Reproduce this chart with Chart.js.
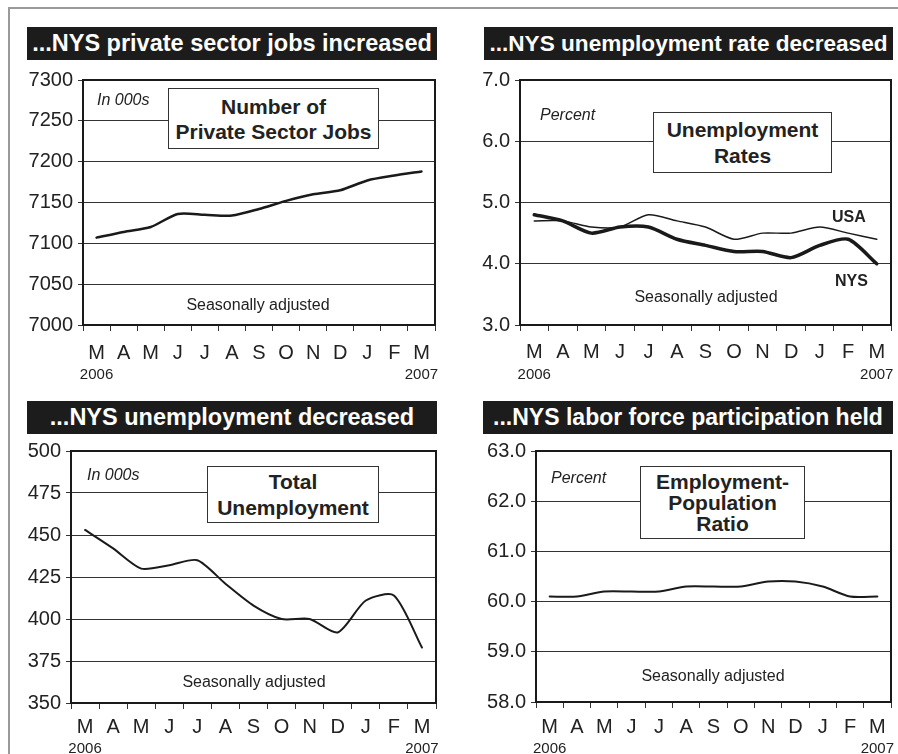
<!DOCTYPE html>
<html><head><meta charset="utf-8">
<script src="https://cdn.jsdelivr.net/npm/chart.js@4.4.0/dist/chart.umd.min.js"></script>
<style>
html,body{margin:0;padding:0;background:#fff;}
body{width:898px;height:754px;position:relative;overflow:hidden;font-family:"Liberation Sans",Arial,sans-serif;color:#222;}
.bar{position:absolute;background:#1c1c1c;color:#fff;font-weight:bold;font-size:23.5px;display:flex;align-items:center;justify-content:center;white-space:nowrap;height:33px;z-index:6;}
.box{position:absolute;box-sizing:border-box;background:#fff;border:1px solid #333;display:flex;flex-direction:column;align-items:center;justify-content:center;font-weight:bold;font-size:21px;text-align:center;white-space:nowrap;z-index:5;}
.it{position:absolute;font-style:italic;font-size:16px;line-height:18px;white-space:nowrap;z-index:5;}
.sa{position:absolute;font-size:16px;line-height:18px;white-space:nowrap;transform:translateX(-50%);z-index:5;}
.lb{position:absolute;font-weight:bold;font-size:16px;line-height:19px;white-space:nowrap;z-index:5;}
.fr{position:absolute;background:#9a9a9a;z-index:6;}
canvas{position:absolute;}
</style></head>
<body>
<div class="fr" style="left:8px;top:7px;width:890px;height:2px"></div>
<div class="fr" style="left:8px;top:7px;width:2px;height:747px"></div>

<div class="bar" style="left:27px;top:27px;width:410px">...NYS private sector jobs increased</div>
<div class="bar" style="left:484px;top:27px;width:409px;font-size:22.6px">...NYS unemployment rate decreased</div>
<div class="bar" style="left:27px;top:401px;width:410px">...NYS unemployment decreased</div>
<div class="bar" style="left:483px;top:401px;width:410px;font-size:23px">...NYS labor force participation held</div>

<canvas id="c1" width="450" height="322" style="left:0px;top:62px"></canvas>
<canvas id="c2" width="448" height="322" style="left:450px;top:62px"></canvas>
<canvas id="c3" width="450" height="324" style="left:0px;top:434px"></canvas>
<canvas id="c4" width="448" height="324" style="left:450px;top:434px"></canvas>

<div class="it" style="left:97px;top:91px">In 000s</div>
<div class="box" style="left:168px;top:88px;width:211px;height:61px;line-height:25px"><div>Number of</div><div>Private Sector Jobs</div></div>
<div class="sa" style="left:258px;top:296px">Seasonally adjusted</div>

<div class="it" style="left:540px;top:106px">Percent</div>
<div class="box" style="left:653px;top:112px;width:179px;height:61px;line-height:26px"><div>Unemployment</div><div>Rates</div></div>
<div class="lb" style="left:832px;top:207px">USA</div>
<div class="lb" style="left:835px;top:271px">NYS</div>
<div class="sa" style="left:706px;top:288px">Seasonally adjusted</div>

<div class="it" style="left:87px;top:466px">In 000s</div>
<div class="box" style="left:207px;top:466px;width:172px;height:57px;line-height:26px"><div>Total</div><div>Unemployment</div></div>
<div class="sa" style="left:254px;top:673px">Seasonally adjusted</div>

<div class="it" style="left:551px;top:469px">Percent</div>
<div class="box" style="left:640px;top:466px;width:165px;height:73px;line-height:21px"><div>Employment-</div><div>Population</div><div>Ratio</div></div>
<div class="sa" style="left:713px;top:667px">Seasonally adjusted</div>

<script>
const months = ['M','A','M','J','J','A','S','O','N','D','J','F','M'];
const years = ['2006','','','','','','','','','','','','2007'];

const privateJobs = [7107, 7114, 7120, 7136, 7135, 7134, 7142, 7152, 7160, 7165, 7177, 7183, 7188];
const usaRate = [4.7, 4.7, 4.6, 4.6, 4.8, 4.7, 4.6, 4.4, 4.5, 4.5, 4.6, 4.5, 4.4];
const nysRate = [4.8, 4.7, 4.5, 4.6, 4.6, 4.4, 4.3, 4.2, 4.2, 4.1, 4.3, 4.4, 4.0];
const totalUnemp = [453, 442, 430, 432, 435, 421, 408, 400, 400, 392, 411, 414, 383];
const empPopRatio = [60.1, 60.1, 60.2, 60.2, 60.2, 60.3, 60.3, 60.3, 60.4, 60.4, 60.3, 60.1, 60.1];

const jobsAxis = [7000, 7300, 50];
const rateAxis = [3.0, 7.0, 1.0];
const unempAxis = [350, 500, 25];
const ratioAxis = [58.0, 63.0, 1.0];

const FONT = '"Liberation Sans", Arial, sans-serif';
const INK = '#1a1a1a';

const framePlugin = {
  id: 'frame',
  afterDraw(c) {
    const a = c.chartArea, ctx = c.ctx;
    ctx.save();
    ctx.strokeStyle = INK;
    ctx.lineWidth = 2;
    ctx.strokeRect(a.left, a.top, a.right - a.left, a.bottom - a.top);
    ctx.restore();
  }
};

function makeChart(id, cb, area, axis, decimals, datasets, xc) {
  const W = area.left - cb.left;
  const padTop = area.top - cb.top;
  const padRight = cb.left + cb.width - area.right;
  return new Chart(document.getElementById(id), {
    type: 'line',
    data: { labels: months, datasets },
    options: {
      responsive: false, animation: false, events: [],
      layout: { padding: { top: padTop, right: padRight, left: 0, bottom: 0 } },
      plugins: { legend: { display: false }, tooltip: { enabled: false } },
      elements: { point: { radius: 0 }, line: { tension: 0.25, borderCapStyle: 'round', borderJoinStyle: 'round' } },
      scales: {
        x: {
          type: 'category', position: 'bottom', offset: true, weight: 0,
          grid: { offset: true, drawOnChartArea: false, tickLength: 6, color: '#333', lineWidth: 1 },
          border: { display: true, color: INK, width: 2 },
          ticks: { autoSkip: false, maxRotation: 0, minRotation: 0, padding: xc.mPad, color: '#222', font: { size: 20, family: FONT } },
          afterFit: s => { s.height = xc.mH; }
        },
        x2: {
          type: 'category', position: 'bottom', labels: years, offset: true, weight: 1,
          grid: { display: false, drawTicks: false, tickLength: 0 }, border: { display: false },
          ticks: { autoSkip: false, maxRotation: 0, minRotation: 0, padding: xc.yPad, color: '#222', font: { size: 15, family: FONT } },
          afterFit: s => { s.height = xc.yH; }
        },
        y: {
          min: axis[0], max: axis[1],
          grid: { color: '#333', lineWidth: 1, tickLength: 5 },
          border: { display: true, color: INK, width: 2 },
          ticks: { stepSize: axis[2], padding: 5, color: '#222', font: { size: 20, family: FONT },
                   callback: v => Number(v).toFixed(decimals) },
          afterFit: s => { s.width = W; }
        }
      }
    },
    plugins: [framePlugin]
  });
}

makeChart('c1', {left:0, top:62, width:450}, {left:83, top:80, right:435},
  jobsAxis, 0,
  [{ data: privateJobs, borderColor: INK, borderWidth: 2.5 }],
  { mPad: 10, mH: 40, yPad: 1, yH: 19 });

makeChart('c2', {left:450, top:62, width:448}, {left:520, top:80, right:891},
  rateAxis, 1,
  [{ data: usaRate, borderColor: INK, borderWidth: 1.5 },
   { data: nysRate, borderColor: INK, borderWidth: 3.5 }],
  { mPad: 9, mH: 39, yPad: 2, yH: 20 });

makeChart('c3', {left:0, top:434, width:450}, {left:71, top:450, right:436},
  unempAxis, 0,
  [{ data: totalUnemp, borderColor: INK, borderWidth: 2 }],
  { mPad: 6, mH: 36, yPad: 1, yH: 19 });

makeChart('c4', {left:450, top:434, width:448}, {left:536, top:451, right:891},
  ratioAxis, 1,
  [{ data: empPopRatio, borderColor: INK, borderWidth: 2 }],
  { mPad: 7, mH: 37, yPad: 1, yH: 19 });
</script>
</body></html>
